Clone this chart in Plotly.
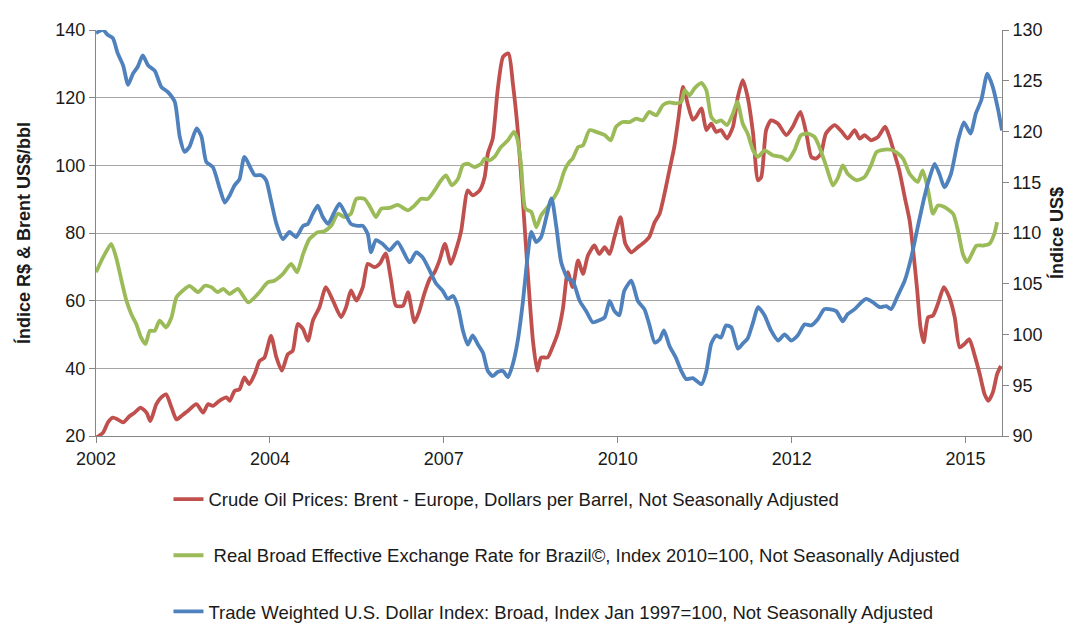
import plotly.graph_objects as go

# x positions are month indices (0 = first month of 2002), labels every 32 months
tick_positions = [0, 32, 64, 96, 128, 160]
tick_labels = ["2002", "2004", "2007", "2010", "2012", "2015"]

brent_t = [0, 1.3, 2.2, 3.1, 4.0, 5.0, 6.2, 7.1, 8.2, 9.3, 10.0, 11.1, 12.0, 12.9, 13.9, 14.8, 15.7, 16.9,
           18.5, 19.7, 20.6, 21.5, 22.7, 24.0, 24.6, 25.5, 26.4, 27.3, 28.2, 29.2, 30.1, 31.0, 32.2, 33.2,
           34.2, 35.3, 36.2, 37.1, 38.1, 39.0, 39.9, 41.1, 42.3, 43.6, 45.1, 46.0, 46.9, 47.9, 49.1, 50.0,
           51.2, 52.2, 53.3, 54.3, 55.2, 56.5, 57.4, 58.6, 59.5, 60.4, 61.4, 62.3, 63.2, 64.2, 65.3, 66.3,
           67.2, 68.4, 69.3, 70.6, 71.5, 72.1, 73.0, 73.9, 74.9, 75.9, 76.7, 77.6, 78.5, 79.5, 80.4, 81.2,
           81.9, 83.1, 84.1, 85.0, 85.9, 86.8, 87.7, 88.7, 89.6, 90.5, 91.7, 92.6, 93.6, 94.5, 95.4, 96.5,
           97.4, 98.5, 99.7, 100.9, 101.8, 102.8, 103.7, 104.6, 105.5, 106.4, 107.2, 108.0, 108.9, 109.8,
           110.4, 111.4, 112.3, 113.2, 114.1, 115.0, 116.1, 117.2, 118.1, 119.0, 119.9, 120.9, 121.8, 122.4,
           123.3, 124.2, 125.5, 127.0, 128.2, 129.6, 130.7, 131.6, 132.5, 133.4, 134.3, 135.9, 137.2, 138.3,
           139.6, 140.5, 141.4, 142.6, 143.9, 145.2, 146.0, 146.9, 147.8, 148.8, 149.7, 150.3, 151.1, 151.7,
           152.3, 153.1, 154.0, 154.9, 156.0, 157.0, 158.0, 158.9, 159.8, 160.7, 161.6, 162.6, 163.5, 164.2,
           165.0, 165.8, 166.5]
brent_v = [19.5, 21.0, 24.0, 25.4, 24.9, 24.0, 25.9, 26.9, 28.4, 26.9, 24.4, 29.4, 31.4, 32.3, 28.4, 24.9, 25.9, 27.4,
           29.4, 26.9, 29.4, 28.9, 30.4, 31.4, 30.4, 33.3, 33.8, 37.3, 35.3, 38.3, 42.2, 43.2, 49.6, 43.2,
           39.3, 44.2, 45.2, 53.1, 51.6, 48.1, 54.1, 58.0, 64.0, 60.0, 55.1, 58.0, 63.0, 60.0, 64.0, 70.9,
           69.9, 70.9, 74.0, 66.0, 58.5, 58.5, 62.5, 53.6, 57.0, 62.0, 66.4, 68.4, 71.9, 76.8, 70.9, 75.3,
           80.7, 92.6, 91.1, 92.6, 96.5, 103.5, 107.9, 122.2, 132.1, 133.1, 124.2, 110.4, 90.6, 66.9, 48.1, 39.3,
           43.2, 43.2, 46.7, 50.6, 57.5, 68.4, 64.0, 71.9, 67.9, 73.3, 76.3, 73.8, 75.8, 73.8, 78.8, 84.7,
           76.8, 74.3, 75.8, 77.3, 78.8, 83.2, 85.7, 91.6, 98.5, 105.4, 114.3, 123.2, 118.0, 113.5,
           114.3, 116.8, 110.4, 112.3, 109.9, 110.4, 107.9, 111.4, 120.2, 125.2, 120.2, 109.4, 95.6, 96.5,
           110.4, 113.3, 112.3, 108.9, 111.4, 115.8, 109.4, 102.5, 102.0, 103.5, 109.4, 111.9, 110.0, 107.9,
           110.4, 107.9, 108.9, 107.4, 108.4, 111.4, 108.4, 103.5, 98.5, 90.6, 83.7, 75.8, 63.0, 52.1,
           47.7, 55.1, 55.6, 59.0, 64.0, 61.0, 55.1, 46.2, 47.2, 48.6, 44.2, 38.3, 32.3, 30.4,
           32.8, 38.3, 40.7]

brazil_t = [0, 1.3, 2.8, 3.7, 4.7, 5.6, 6.5, 7.4, 8.3, 9.1, 9.9, 10.8, 11.7, 12.9, 13.9, 14.8, 16.0, 17.2,
            18.8, 20.0, 21.2, 22.4, 23.4, 24.6, 26.1, 28.0, 29.8, 31.6, 32.8, 34.4, 35.9, 37.0, 38.1, 39.3,
            40.8, 42.0, 43.3, 44.5, 45.7, 46.9, 47.9, 49.4, 50.6, 51.5, 52.5, 54.0, 55.5, 57.4, 58.6, 59.8,
            61.1, 62.3, 63.5, 64.4, 65.5, 66.6, 67.5, 68.4, 69.6, 70.9, 71.5, 72.4, 73.3, 74.5, 75.8, 76.9,
            77.5, 78.2, 79.0, 80.1, 81.0, 81.9, 83.3, 85.0, 86.2, 87.1, 87.7, 88.7, 89.6, 90.8, 92.0, 93.6,
            94.7, 95.7, 96.9, 98.2, 99.4, 100.6, 101.8, 103.1, 104.3, 105.5, 106.7, 107.7, 108.3, 109.2,
            110.1, 110.7, 111.4, 112.3, 113.2, 114.1, 115.0, 116.1, 117.2, 118.0, 119.0, 119.9, 120.9, 121.8,
            123.0, 124.5, 126.1, 127.3, 128.5, 129.7, 131.0, 132.2, 133.1, 134.3, 135.6, 136.5, 137.4, 138.3,
            139.9, 141.4, 142.6, 143.6, 144.8, 146.3, 147.2, 148.5, 149.7, 151.2, 152.1, 153.1, 154.0, 154.9,
            156.1, 157.7, 158.6, 159.5, 160.3, 161.0, 162.0, 163.2, 164.4, 165.3, 165.8]
brazil_v = [68.4, 72.8, 76.8, 72.8, 65.9, 60.0, 56.0, 53.1, 49.1, 47.2, 51.1, 51.1, 54.1, 52.1, 55.1, 61.0, 63.0, 64.4,
            62.5, 64.4, 64.0, 62.5, 63.5, 62.0, 63.5, 59.5, 62.0, 65.4, 65.9, 67.9, 70.9, 68.4, 73.8, 78.3,
            80.2, 80.5, 82.2, 85.7, 84.7, 85.7, 90.1, 90.1, 87.2, 84.7, 87.2, 87.4, 88.3, 86.7, 88.1, 90.1,
            90.1, 92.6, 95.6, 97.0, 94.1, 96.0, 100.0, 100.5, 99.5, 100.5, 102.0, 101.5, 102.5, 105.4, 107.4, 109.9,
            107.9, 100.5, 87.2, 86.2, 81.7, 85.2, 88.1, 92.6, 98.5, 101.0, 102.0, 105.4, 105.9, 110.4, 109.9, 108.9,
            107.4, 111.4, 112.8, 112.8, 113.8, 113.3, 115.8, 114.8, 117.8, 118.6, 118.3, 118.8, 122.2, 120.7,
            122.7, 123.7, 124.4, 122.2, 114.3, 112.8, 113.3, 111.9, 115.3, 118.8, 112.3, 109.4, 104.4, 102.5,
            104.4, 103.0, 102.5, 101.5, 104.4, 108.9, 109.4, 108.4, 105.4, 100.0, 94.1, 96.3, 100.0, 97.5,
            95.6, 96.5, 100.0, 103.9, 104.6, 104.6, 103.9, 102.0, 97.5, 95.1, 98.5, 92.6, 85.7, 88.1,
            87.7, 85.7, 80.7, 73.8, 71.4, 73.3, 76.3, 76.3, 76.8, 79.8, 83.2]

usd_t = [0, 1.3, 2.2, 3.1, 4.0, 5.0, 5.9, 6.8, 7.7, 8.6, 9.6, 10.8, 12.0, 13.2, 14.5, 15.4, 16.3, 17.2,
         18.5, 19.4, 20.3, 21.5, 22.7, 23.7, 24.6, 25.5, 26.4, 27.3, 29.2, 30.4, 31.3, 32.2, 33.2, 34.4,
         35.6, 36.8, 38.1, 39.0, 39.9, 40.8, 41.7, 42.7, 43.9, 44.8, 45.7, 46.9, 48.2, 49.1, 50.0, 50.6,
         51.5, 52.8, 54.0, 55.5, 57.7, 58.9, 60.1, 61.4, 62.6, 63.8, 64.7, 65.7, 66.6, 67.5, 68.4, 69.3,
         70.3, 71.2, 72.1, 73.0, 73.9, 74.9, 75.8, 76.7, 77.6, 78.5, 79.4, 80.1, 81.0, 81.9, 83.8, 84.7,
         85.6, 86.8, 87.7, 89.0, 90.2, 91.4, 92.6, 93.6, 94.5, 95.4, 96.3, 97.2, 98.5, 99.7, 100.9, 101.8,
         102.8, 103.7, 104.5, 105.5, 106.7, 107.7, 108.6, 109.8, 111.4, 112.3, 113.2, 114.1, 115.0, 115.9,
         116.9, 118.1, 119.0, 119.9, 120.9, 121.8, 123.0, 124.2, 125.5, 126.7, 127.9, 129.1, 130.4, 131.6,
         132.8, 134.0, 134.9, 136.2, 137.4, 138.3, 139.6, 140.5, 141.7, 142.9, 144.2, 145.4, 146.3, 147.5,
         148.8, 150.0, 151.2, 152.4, 153.4, 154.3, 155.2, 156.1, 157.3, 158.6, 159.7, 160.9, 161.9, 162.9,
         164.0, 165.0, 166.0, 166.7]
usd_v = [129.7, 130.0, 129.5, 129.2, 127.7, 126.5, 124.6, 125.7, 126.4, 127.5, 126.5, 126.0, 124.4, 123.9, 122.9, 119.5, 118.0, 118.5,
         120.3, 119.5, 117.0, 116.5, 114.5, 113.0, 113.7, 114.7, 115.3, 117.5, 115.7, 115.7, 115.2, 113.2, 110.9, 109.4,
         110.1, 109.6, 110.7, 110.9, 111.9, 112.7, 111.6, 110.9, 112.1, 112.9, 112.1, 110.9, 110.7, 110.7, 109.9, 108.1,
         109.3, 108.9, 108.3, 109.1, 107.1, 108.1, 107.6, 106.3, 105.0, 104.3, 103.5, 103.8, 102.7, 100.4, 99.0, 99.9,
         99.0, 98.2, 96.4, 95.9, 96.3, 96.4, 95.8, 97.1, 99.4, 103.0, 107.6, 110.1, 109.1, 109.6, 113.4, 110.6,
         107.1, 105.5, 105.3, 103.3, 102.3, 101.2, 101.4, 101.7, 103.3, 102.3, 101.9, 104.3, 105.3, 103.3, 102.5, 101.0,
         99.2, 99.5, 100.4, 98.9, 97.7, 96.4, 95.6, 95.7, 95.1, 96.4, 99.1, 99.9, 99.7, 100.9,
         100.7, 98.6, 99.1, 99.6, 101.2, 102.7, 101.9, 100.4, 99.4, 100.0, 99.4, 99.9, 101.0, 100.9,
         101.5, 102.5, 102.5, 102.3, 101.3, 102.0, 102.5, 103.0, 103.5, 103.2, 102.7, 102.8, 102.5, 103.8,
         105.3, 107.6, 110.6, 113.5, 115.5, 116.8, 115.8, 114.5, 115.8, 119.1, 120.9, 119.8, 121.8, 123.1,
         125.7, 124.4, 122.1, 120.1]

names = [
    "Crude Oil Prices: Brent - Europe, Dollars per Barrel, Not Seasonally Adjusted",
    " Real Broad Effective Exchange Rate for Brazil©, Index 2010=100, Not Seasonally Adjusted",
    "Trade Weighted U.S. Dollar Index: Broad, Index Jan 1997=100, Not Seasonally Adjusted",
]
colors = ["#C0504D", "#9BBB59", "#4F81BD"]

FONT = "Liberation Sans, Arial, sans-serif"
TXT = "#1a1a1a"
AX = "#868686"

fig = go.Figure()
series = [(brent_t, brent_v, "y"), (brazil_t, brazil_v, "y"), (usd_t, usd_v, "y2")]
for i, (t, v, ax) in enumerate(series):
    fig.add_trace(go.Scatter(
        x=t, y=v, name=names[i], mode="lines", yaxis=ax, legendgroup=f"g{i}",
        line=dict(color=colors[i], width=3.8, shape="spline", smoothing=0.6),
    ))

fig.update_layout(
    width=1072, height=626,
    margin=dict(l=88, r=78, t=22, b=198, autoexpand=False),
    paper_bgcolor="white", plot_bgcolor="white",
    font=dict(family=FONT, size=18, color=TXT),
    showlegend=True,
    legend=dict(orientation="v", x=0.08, y=-0.11, xanchor="left", yanchor="top",
                tracegroupgap=29, font=dict(family=FONT, size=18.5, color=TXT),
                itemwidth=30, traceorder="grouped", bgcolor="rgba(0,0,0,0)"),
    xaxis=dict(range=[0, 166.7], tickvals=tick_positions, ticktext=tick_labels,
               showgrid=False, zeroline=False, showline=True, linecolor=AX, linewidth=1,
               ticks="outside", ticklen=6, tickcolor=AX, tickfont=dict(size=18, color=TXT)),
    yaxis=dict(range=[20, 140], dtick=20, tick0=20, showgrid=True, gridcolor="#A6A6A6", gridwidth=1,
               zeroline=False, showline=True, linecolor=AX, linewidth=1,
               ticks="outside", ticklen=6, tickcolor=AX, tickfont=dict(size=18, color=TXT),
               title=dict(text="<b>Índice R$ & Brent US$/bbl</b>", font=dict(size=18, color=TXT), standoff=20)),
    yaxis2=dict(range=[90, 130], dtick=5, tick0=90, overlaying="y", side="right", showgrid=False,
                zeroline=False, showline=True, linecolor=AX, linewidth=1,
                ticks="outside", ticklen=6, tickcolor=AX, tickfont=dict(size=18, color=TXT),
                title=dict(text="<b>Índice US$</b>", font=dict(size=18, color=TXT), standoff=8)),
)

fig.write_html("out.html")
